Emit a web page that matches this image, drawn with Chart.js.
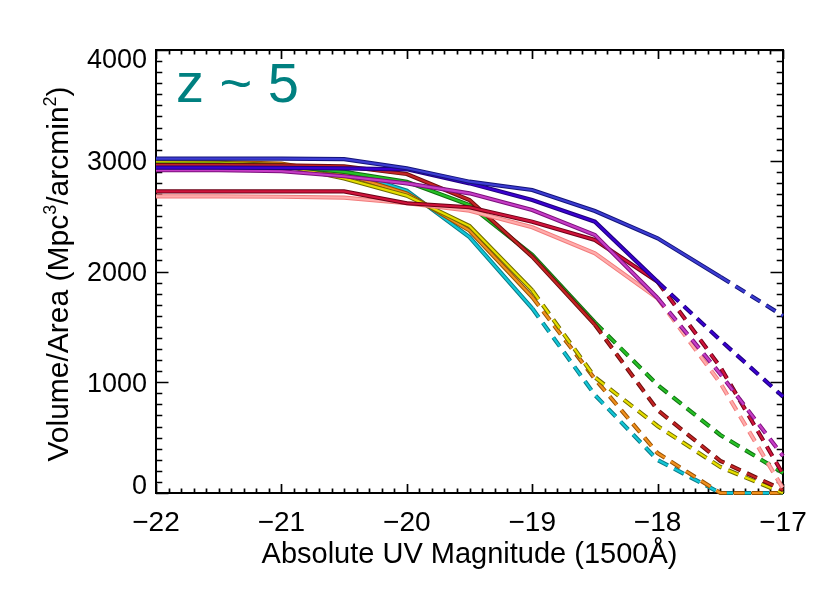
<!DOCTYPE html>
<html>
<head>
<meta charset="utf-8">
<script src="https://cdn.jsdelivr.net/npm/chart.js@4/dist/chart.umd.min.js"></script>
<style>
html,body{margin:0;padding:0;background:#fff;}
canvas{display:block;}
</style>
</head>
<body>
<canvas id="c" width="830" height="593"></canvas>
<script>
// ---- data ----
const mags = [-22, -21.5, -21, -20.5, -20, -19.5, -19, -18.5, -18, -17.5, -17];
const xTicks = [-22, -21, -20, -19, -18, -17];
const yTicks = [0, 1000, 2000, 3000, 4000];

const cyan    = [2950, 2950, 2948, 2910, 2730, 2310, 1668,  885,  298,    0,    0];
const orange  = [2990, 2988, 2975, 2880, 2705, 2370, 1770, 1030,  360,    0,    0];
const yellow  = [2985, 2980, 2960, 2840, 2685, 2410, 1830, 1045,  605,  235,    0];
const green   = [2965, 2965, 2955, 2900, 2810, 2600, 2150, 1540,  975,  524,  181];
const darkRed = [2960, 2960, 2958, 2950, 2880, 2646, 2134, 1520,  749,  290,   27];
const pink    = [2679, 2679, 2675, 2667, 2616, 2549, 2399, 2164, 1758,  993,   40];
const crimson = [2724, 2724, 2724, 2724, 2616, 2580, 2450, 2284, 1908, 1137,  170];
const magenta = [2914, 2914, 2905, 2860, 2796, 2706, 2555, 2330, 1760, 1075,  334];
const indigo  = [2938, 2938, 2935, 2932, 2923, 2796, 2646, 2450, 1908, 1380,  870];
const navy    = [3020, 3020, 3020, 3015, 2932, 2811, 2736, 2546, 2300, 1953, 1600];

// magnitude after which each curve is dashed
const solidUntil = { cyan: -19, orange: -19, yellow: -19, green: -18.5, darkRed: -18.5,
                     pink: -18, crimson: -18, magenta: -18, indigo: -18, navy: -17.5 };

// ---- styles ----
const styles = {
  cyan:    { core: '#12c6d6', edge: '#0a7a86' },
  orange:  { core: '#f0901e', edge: '#985000' },
  yellow:  { core: '#e6de00', edge: '#6e6a00' },
  green:   { core: '#26c026', edge: '#106e10' },
  darkRed: { core: '#c42424', edge: '#6a0c0c' },
  pink:    { core: '#ffacac', edge: '#f27c7c' },
  crimson: { core: '#d0143c', edge: '#6c0016' },
  magenta: { core: '#c63cc6', edge: '#7c107c' },
  indigo:  { core: '#3a00d0', edge: '#1e007c' },
  navy:    { core: '#3c3cd2', edge: '#14147a' }
};
const seriesList = [
  ['cyan', cyan], ['orange', orange], ['yellow', yellow], ['green', green],
  ['darkRed', darkRed], ['pink', pink], ['crimson', crimson], ['magenta', magenta],
  ['indigo', indigo], ['navy', navy]
];

const DASH = [11, 7];
const datasets = [];
let k = 0;
seriesList.forEach(([name, vals]) => {
  const pts = mags.map((m, i) => ({ x: m, y: vals[i] }));
  const cut = solidUntil[name];
  const seg = { borderDash: c => (c.p0.parsed.x >= cut - 1e-9 ? DASH : undefined) };
  datasets.push({ data: pts, borderColor: styles[name].edge, borderWidth: 4.2,
    pointRadius: 0, tension: 0, fill: false, borderCapStyle: 'butt', borderDash: [],
    segment: seg, clip: 6, order: 100 - (k++) });
  datasets.push({ data: pts, borderColor: styles[name].core, borderWidth: 2.2,
    pointRadius: 0, tension: 0, fill: false, borderCapStyle: 'butt', borderDash: [],
    segment: seg, clip: 6, order: 100 - (k++) });
});

const FONT = '"Liberation Sans", Arial, Helvetica, sans-serif';

const framePlugin = {
  id: 'frame',
  beforeDatasetsDraw(chart) {
    const ctx = chart.ctx, a = chart.chartArea;
    const xs = chart.scales.x, ys = chart.scales.y;
    ctx.save();
    ctx.strokeStyle = '#000';
    ctx.lineWidth = 1.7;
    // x ticks
    for (let i = 0; i <= 50; i++) {
      const v = xTicks[0] + i / 10;
      const px = Math.round(xs.getPixelForValue(v)) + 0.5;
      const len = (i % 10 === 0) ? 9 : 4.5;
      ctx.beginPath();
      ctx.moveTo(px, a.bottom); ctx.lineTo(px, a.bottom - len);
      ctx.moveTo(px, a.top); ctx.lineTo(px, a.top + len);
      ctx.stroke();
    }
    // y ticks
    for (let j = 0; j <= 40; j++) {
      const v = j * 100;
      const py = Math.round(ys.getPixelForValue(v)) + 0.5;
      const len = (j % 10 === 0) ? 12.5 : 6.3;
      ctx.beginPath();
      ctx.moveTo(a.left, py); ctx.lineTo(a.left + len, py);
      ctx.moveTo(a.right, py); ctx.lineTo(a.right - len, py);
      ctx.stroke();
    }
    ctx.lineWidth = 2;
    ctx.strokeRect(a.left, a.top, a.right - a.left, a.bottom - a.top);

    // tick labels
    ctx.fillStyle = '#000';
    ctx.font = '27px ' + FONT;
    ctx.textAlign = 'right';
    ctx.textBaseline = 'alphabetic';
    const capY = 19.3;
    yTicks.forEach(v => {
      const py = ys.getPixelForValue(v);
      let base = py + capY / 2;
      base = Math.max(base, a.top - 1 + capY);
      base = Math.min(base, a.bottom + 1);
      ctx.fillText(String(v), 147, base);
    });
    ctx.font = '28px ' + FONT;
    ctx.textAlign = 'center';
    xTicks.forEach(v => {
      const px = xs.getPixelForValue(v);
      const t = (v < 0 ? '\u2212' : '') + Math.abs(v);
      ctx.fillText(t, px, 531);
    });

    // x title
    ctx.font = '29px ' + FONT;
    ctx.fillText('Absolute UV Magnitude (1500\u00C5)', (a.left + a.right) / 2, 563);

    // y title with superscripts
    const parts = [['Volume/Area (Mpc', false], ['3', true], ['/arcmin', false], ['2', true], [')', false]];
    const big = '30px ' + FONT, small = '18px ' + FONT;
    let total = 0;
    parts.forEach(p => { ctx.font = p[1] ? small : big; total += ctx.measureText(p[0]).width; });
    ctx.translate(68, 274);
    ctx.rotate(-Math.PI / 2);
    ctx.textAlign = 'left';
    let x0 = -total / 2;
    parts.forEach(p => {
      ctx.font = p[1] ? small : big;
      ctx.fillText(p[0], x0, p[1] ? -12 : 0);
      x0 += ctx.measureText(p[0]).width;
    });
    ctx.restore();

    // annotation
    ctx.save();
    ctx.fillStyle = '#008080';
    ctx.font = '56px ' + FONT;
    ctx.textAlign = 'left';
    ctx.textBaseline = 'alphabetic';
    ctx.fillText('z ~ 5', 176, 102);
    ctx.restore();
  }
};

new Chart(document.getElementById('c'), {
  type: 'line',
  data: { datasets },
  options: {
    responsive: false,
    animation: false,
    devicePixelRatio: 1,
    layout: { padding: { top: 50, right: 47, left: 0, bottom: 0 } },
    plugins: { legend: { display: false }, tooltip: { enabled: false } },
    scales: {
      x: {
        type: 'linear', min: -22, max: -17,
        ticks: { display: false, stepSize: 1 },
        grid: { display: false }, border: { display: false },
        afterFit: s => { s.height = 100; }
      },
      y: {
        type: 'linear', min: 0, max: 4000,
        ticks: { display: false, stepSize: 1000 },
        grid: { display: false }, border: { display: false },
        afterFit: s => { s.width = 156; }
      }
    }
  },
  plugins: [framePlugin]
});
</script>
</body>
</html>
